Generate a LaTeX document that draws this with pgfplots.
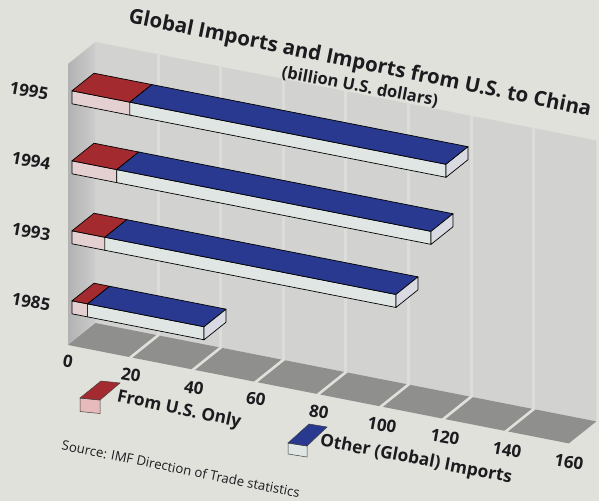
\documentclass[border=0pt]{standalone}
\usepackage{pgfplots}
\pgfplotsset{compat=1.18}
\usepackage{fontspec}
\setmainfont{Open Sans}
\definecolor{bgc}{HTML}{E0E1DA}
\definecolor{wallc}{HTML}{D2D2D0}
\definecolor{gridc}{HTML}{DCDCD9}
\definecolor{tilec}{HTML}{8F8F8E}
\definecolor{redtop}{HTML}{A32A2E}
\definecolor{redfront}{HTML}{E4D0D0}
\definecolor{bluetop}{HTML}{28398F}
\definecolor{bluefront}{HTML}{DFE6E3}
\definecolor{endc}{HTML}{D9DAE2}
\definecolor{txt}{HTML}{1C1C20}
\tikzset{face/.style={draw=black,line width=0.7pt,line join=round,mark=none}}
\begin{document}
\begin{tikzpicture}[x=1pt,y=1pt]
\useasboundingbox (0,0) rectangle (599,501);
\fill[bgc] (0,0) rectangle (599,501);
\begin{axis}[anchor=origin,at={(68pt,156pt)},hide axis,clip=false,disabledatascaling,
  x={(3.13pt,-0.615pt)},y={(27.5pt,22pt)},z={(0pt,1pt)},
  xmin=0,xmax=160,ymin=0,ymax=1,zmin=0,zmax=281]
% back wall
\addplot3[fill=wallc,draw=none,mark=none] coordinates {(0,1,0)(160,1,0)(160,1,281)(0,1,281)} --cycle;
% wall grid lines
\addplot3[gridc,line width=3pt,mark=none] coordinates {(20,1,0)(20,1,281)};
\addplot3[gridc,line width=3pt,mark=none] coordinates {(40,1,0)(40,1,281)};
\addplot3[gridc,line width=3pt,mark=none] coordinates {(60,1,0)(60,1,281)};
\addplot3[gridc,line width=3pt,mark=none] coordinates {(80,1,0)(80,1,281)};
\addplot3[gridc,line width=3pt,mark=none] coordinates {(100,1,0)(100,1,281)};
\addplot3[gridc,line width=3pt,mark=none] coordinates {(120,1,0)(120,1,281)};
\addplot3[gridc,line width=3pt,mark=none] coordinates {(140,1,0)(140,1,281)};
% left wall
\addplot3[left color=black!30,right color=black!20,draw=none,mark=none] coordinates {(0,0,0)(0,1,0)(0,1,281)(0,0,281)} --cycle;
% floor tiles
\addplot3[fill=tilec,draw=none,mark=none] coordinates {(0,0,0)(19.4,0,0)(19.4,1,0)(0,1,0)} --cycle;
\addplot3[fill=tilec,draw=none,mark=none] coordinates {(20.6,0,0)(39.4,0,0)(39.4,1,0)(20.6,1,0)} --cycle;
\addplot3[fill=tilec,draw=none,mark=none] coordinates {(40.6,0,0)(59.4,0,0)(59.4,1,0)(40.6,1,0)} --cycle;
\addplot3[fill=tilec,draw=none,mark=none] coordinates {(60.6,0,0)(79.4,0,0)(79.4,1,0)(60.6,1,0)} --cycle;
\addplot3[fill=tilec,draw=none,mark=none] coordinates {(80.6,0,0)(99.4,0,0)(99.4,1,0)(80.6,1,0)} --cycle;
\addplot3[fill=tilec,draw=none,mark=none] coordinates {(100.6,0,0)(119.4,0,0)(119.4,1,0)(100.6,1,0)} --cycle;
\addplot3[fill=tilec,draw=none,mark=none] coordinates {(120.6,0,0)(139.4,0,0)(139.4,1,0)(120.6,1,0)} --cycle;
\addplot3[fill=tilec,draw=none,mark=none] coordinates {(140.6,0,0)(160,0,0)(160,1,0)(140.6,1,0)} --cycle;
% 1995: U.S. 18.5, total 119.5
\addplot3[face,fill=redfront] coordinates {(0,0.145,238)(18.5,0.145,238)(18.5,0.145,251)(0,0.145,251)} --cycle;
\addplot3[face,fill=bluefront] coordinates {(18.5,0.145,238)(119.5,0.145,238)(119.5,0.145,251)(18.5,0.145,251)} --cycle;
\addplot3[face,fill=redtop] coordinates {(0,0.145,251)(18.5,0.145,251)(18.5,0.945,251)(0,0.945,251)} --cycle;
\addplot3[face,fill=bluetop] coordinates {(18.5,0.145,251)(119.5,0.145,251)(119.5,0.945,251)(18.5,0.945,251)} --cycle;
\addplot3[face,fill=endc] coordinates {(119.5,0.145,238)(119.5,0.945,238)(119.5,0.945,251)(119.5,0.145,251)} --cycle;
% 1994: U.S. 14.3, total 114.7
\addplot3[face,fill=redfront] coordinates {(0,0.145,168)(14.3,0.145,168)(14.3,0.145,181)(0,0.145,181)} --cycle;
\addplot3[face,fill=bluefront] coordinates {(14.3,0.145,168)(114.7,0.145,168)(114.7,0.145,181)(14.3,0.145,181)} --cycle;
\addplot3[face,fill=redtop] coordinates {(0,0.145,181)(14.3,0.145,181)(14.3,0.945,181)(0,0.945,181)} --cycle;
\addplot3[face,fill=bluetop] coordinates {(14.3,0.145,181)(114.7,0.145,181)(114.7,0.945,181)(14.3,0.945,181)} --cycle;
\addplot3[face,fill=endc] coordinates {(114.7,0.145,168)(114.7,0.945,168)(114.7,0.945,181)(114.7,0.145,181)} --cycle;
% 1993: U.S. 10.5, total 103.5
\addplot3[face,fill=redfront] coordinates {(0,0.145,98)(10.5,0.145,98)(10.5,0.145,111)(0,0.145,111)} --cycle;
\addplot3[face,fill=bluefront] coordinates {(10.5,0.145,98)(103.5,0.145,98)(103.5,0.145,111)(10.5,0.145,111)} --cycle;
\addplot3[face,fill=redtop] coordinates {(0,0.145,111)(10.5,0.145,111)(10.5,0.945,111)(0,0.945,111)} --cycle;
\addplot3[face,fill=bluetop] coordinates {(10.5,0.145,111)(103.5,0.145,111)(103.5,0.945,111)(10.5,0.945,111)} --cycle;
\addplot3[face,fill=endc] coordinates {(103.5,0.145,98)(103.5,0.945,98)(103.5,0.945,111)(103.5,0.145,111)} --cycle;
% 1985: U.S. 5, total 42.2
\addplot3[face,fill=redfront] coordinates {(0,0.145,28)(5,0.145,28)(5,0.145,41)(0,0.145,41)} --cycle;
\addplot3[face,fill=bluefront] coordinates {(5,0.145,28)(42.2,0.145,28)(42.2,0.145,41)(5,0.145,41)} --cycle;
\addplot3[face,fill=redtop] coordinates {(0,0.145,41)(5,0.145,41)(5,0.945,41)(0,0.945,41)} --cycle;
\addplot3[face,fill=bluetop] coordinates {(5,0.145,41)(42.2,0.145,41)(42.2,0.945,41)(5,0.945,41)} --cycle;
\addplot3[face,fill=endc] coordinates {(42.2,0.145,28)(42.2,0.945,28)(42.2,0.945,41)(42.2,0.145,41)} --cycle;
\end{axis}
\begin{scope}[shift={(0,501)},y=-1pt,txt]
\tikzset{every node/.style={inner sep=0pt,font=\bfseries}}
\node[rotate=-11.5,font=\fontsize{20.5}{24}\selectfont\bfseries] at (360,64) {Global Imports and Imports from U.S. to China};
\node[rotate=-10.6,font=\fontsize{16.5}{19}\selectfont\bfseries] at (360,87) {(billion U.S. dollars)};
\node[rotate=-10,font=\fontsize{17}{20}\selectfont\bfseries] at (29,91) {1995};
\node[rotate=-10,font=\fontsize{17}{20}\selectfont\bfseries] at (31,161) {1994};
\node[rotate=-10,font=\fontsize{17}{20}\selectfont\bfseries] at (31,232) {1993};
\node[rotate=-10,font=\fontsize{17}{20}\selectfont\bfseries] at (31,302) {1985};
\foreach \t/\xx/\yy in {0/68/361,20/131/375,40/194/388,60/256/399,80/319/412,100/382/425,120/445/437,140/507/450,160/569/462}
  \node[rotate=-10,font=\fontsize{17}{20}\selectfont\bfseries] at (\xx,\yy) {\t};
\node[rotate=-12,font=\fontsize{17.3}{20}\selectfont\bfseries] at (179,410) {From U.S. Only};
\node[rotate=-11,font=\fontsize{17.3}{20}\selectfont\bfseries] at (416,460) {Other (Global) Imports};
\node[rotate=-11.5,font=\fontsize{13.2}{16}\selectfont] at (181,469) {Source: IMF Direction of Trade statistics};
% legend swatches
\draw[black!75,line width=0.5pt,fill=redfront!90!red] (80,398)--(100,400)--(100,413.5)--(80,411.5)--cycle;
\draw[black!75,line width=0.5pt,fill=redtop] (80,398)--(100,400)--(120,383)--(101,381)--cycle;
\draw[black!75,line width=0.5pt,fill=bluefront] (288,443)--(307,446)--(307,457)--(288,454)--cycle;
\draw[black!75,line width=0.5pt,fill=bluetop] (288,443)--(307,446)--(327,427)--(309,424)--cycle;
\end{scope}
\end{tikzpicture}
\end{document}
